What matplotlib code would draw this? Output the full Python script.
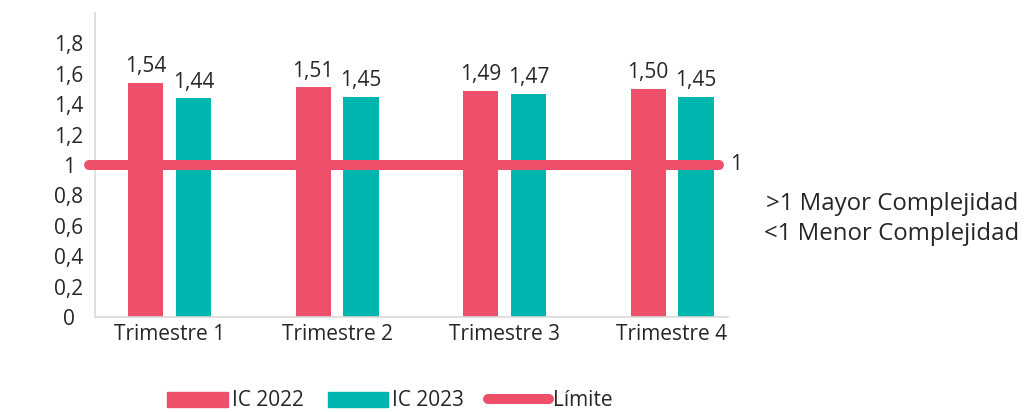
import matplotlib
matplotlib.use("Agg")
import matplotlib.pyplot as plt
from matplotlib.ticker import FuncFormatter
from matplotlib.lines import Line2D
from matplotlib.patches import Patch
import numpy as np

# Data
trimestres = ["Trimestre 1", "Trimestre 2", "Trimestre 3", "Trimestre 4"]
ic_2022 = [1.54, 1.51, 1.49, 1.50]
ic_2023 = [1.44, 1.45, 1.47, 1.45]
limite = 1
y_ticks = [0, 0.2, 0.4, 0.6, 0.8, 1, 1.2, 1.4, 1.6, 1.8]

RED = "#EE506C"
TEAL = "#00B6AE"
TXT = "#262626"
FS = 15

plt.rcParams["font.family"] = ["Open Sans", "DejaVu Sans"]

def coma(v, pos=None):
    return f"{v:g}".replace(".", ",")

W, H = 1029, 412
fig = plt.figure(figsize=(W / 100, H / 100), dpi=100)
ax = fig.add_axes([95 / W, 1 - 317 / H, (728 - 95) / W, (317 - 13) / H])

x = np.arange(len(trimestres))
bw = 0.21
off = 0.143
b1 = ax.bar(x - off, ic_2022, bw, color=RED, zorder=2)
b2 = ax.bar(x + off, ic_2023, bw, color=TEAL, zorder=2)

for bars, vals in [(b1, ic_2022), (b2, ic_2023)]:
    for b, v in zip(bars, vals):
        ax.annotate(f"{v:.2f}".replace(".", ","),
                    (b.get_x() + b.get_width() / 2, v),
                    xytext=(0, 4), textcoords="offset points",
                    ha="center", va="bottom", fontsize=FS, color=TXT)

# Limit line
ax.axhline(limite, xmin=-0.0095, xmax=0.986, color=RED, lw=7.2,
           solid_capstyle="round", clip_on=False, zorder=3)
ax.annotate(coma(limite), (1.0, limite), xycoords=("axes fraction", "data"),
            xytext=(1.5, 0), textcoords="offset points",
            ha="left", va="center", fontsize=FS, color=TXT)

ax.set_xlim(-0.445, 3.334)
ax.set_ylim(0, 2.0)
ax.set_xticks(x)
ax.set_xticklabels(trimestres, fontsize=FS, color=TXT)
ax.set_yticks(y_ticks)
ax.yaxis.set_major_formatter(FuncFormatter(coma))
ax.tick_params(axis="y", length=0, labelsize=FS, labelcolor=TXT, pad=19)
ax.tick_params(axis="x", length=0, pad=5)
for lab in ax.get_yticklabels():
    lab.set_horizontalalignment("center")

for s in ["top", "right"]:
    ax.spines[s].set_visible(False)
for s in ["left", "bottom"]:
    ax.spines[s].set_color("#D9D9D9")
    ax.spines[s].set_linewidth(1.2)

fig.text(766 / W, 1 - 204 / H, ">1 Mayor Complejidad", ha="left", va="center",
         fontsize=17.3, color=TXT)
fig.text(764 / W, 1 - 234 / H, "<1 Menor Complejidad", ha="left", va="center",
         fontsize=17.3, color=TXT)

handles = [Patch(color=RED), Patch(color=TEAL),
           Line2D([0], [0], color=RED, lw=7.2, solid_capstyle="round")]
fig.legend(handles, ["IC 2022", "IC 2023", "Límite"], loc="center",
           bbox_to_anchor=(390 / W, 1 - 401 / H), ncol=3, frameon=False,
           fontsize=FS, handlelength=2.9, handleheight=0.75,
           handletextpad=0.2, columnspacing=1.15, labelcolor=TXT)

fig.savefig("out.png", dpi=100)
